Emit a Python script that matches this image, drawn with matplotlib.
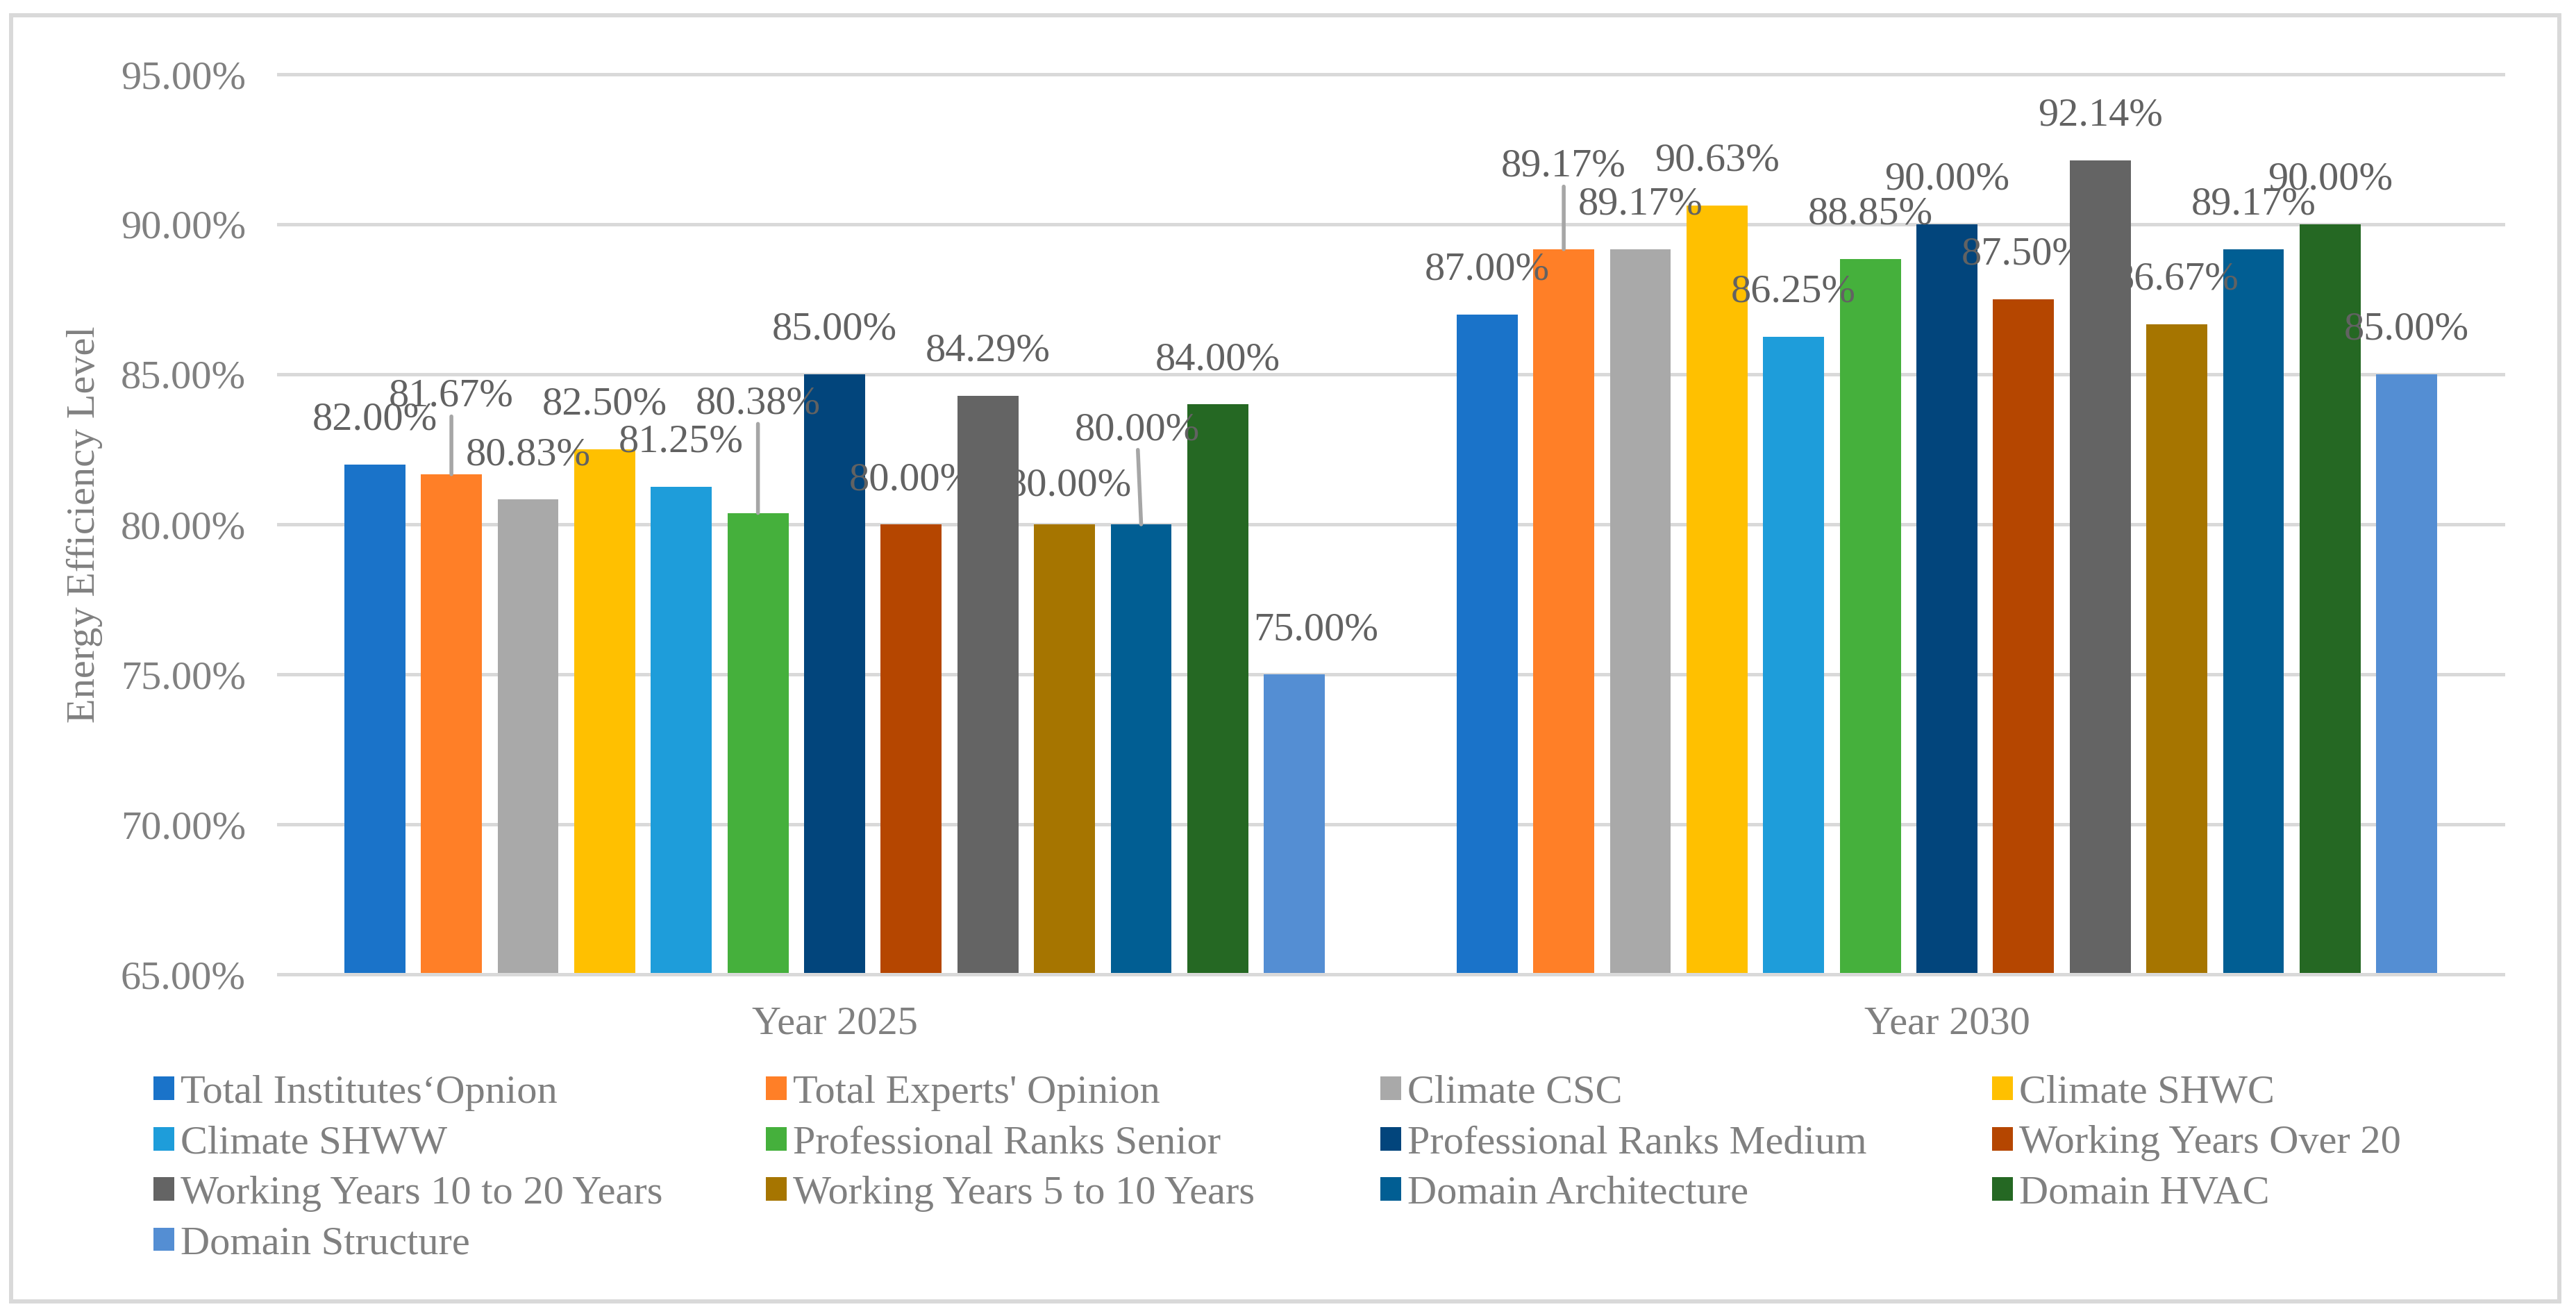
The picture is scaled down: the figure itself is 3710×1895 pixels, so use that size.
import matplotlib
matplotlib.use('Agg')
import matplotlib.pyplot as plt
from matplotlib.patches import Rectangle
from matplotlib.ticker import FuncFormatter
import numpy as np

plt.rcParams['font.family'] = ['Liberation Serif', 'DejaVu Serif']

years = ['Year 2025', 'Year 2030']
series_names = ['Total Institutes\u2018Opnion', "Total Experts' Opinion", 'Climate CSC', 'Climate SHWC',
                'Climate SHWW', 'Professional Ranks Senior', 'Professional Ranks Medium',
                'Working Years Over 20', 'Working Years 10 to 20 Years', 'Working Years 5 to 10 Years',
                'Domain Architecture', 'Domain HVAC', 'Domain Structure']
values_2025 = [82.00, 81.67, 80.83, 82.50, 81.25, 80.38, 85.00, 80.00, 84.29, 80.00, 80.00, 84.00, 75.00]
values_2030 = [87.00, 89.17, 89.17, 90.63, 86.25, 88.85, 90.00, 87.50, 92.14, 86.67, 89.17, 90.00, 85.00]
colors = ['#1A73C9', '#FF7F27', '#A9A9A9', '#FFC000', '#1E9DDA', '#45B03C', '#02457C',
          '#B54600', '#646464', '#A67500', '#015E93', '#256823', '#548ED3']

W, H = 3710, 1895
FS = 42
# data labels moved by hand in the original (dx, dy above bar top, px)
label_moves = {(0, 1): (0, 98), (0, 5): (0, 143), (0, 9): (7, 42), (0, 10): (-6, 122),
               (0, 12): (31, 50), (1, 1): (0, 105)}
leaders = {(0, 1), (0, 5), (0, 10), (1, 1)}

fig = plt.figure(figsize=(W / 100, H / 100), dpi=100)
ax = fig.add_axes([401 / W, 1 - 1403 / H, 3204 / W, 1296 / H])

n = len(series_names)
pitch = 0.0689
width = 0.0549
x = np.arange(len(years))
vals = np.array([values_2025, values_2030])

handles = []
for i in range(n):
    pos = x + (i - (n - 1) / 2) * pitch
    z = 4 if i == 8 else 2  # that series covers neighbouring labels in the original
    b = ax.bar(pos, vals[:, i], width, color=colors[i], zorder=z, label=series_names[i])
    handles.append(b)
    for g in range(len(years)):
        dx, dy = label_moves.get((g, i), (0, 50))
        arrow = None
        if (g, i) in leaders:
            arrow = dict(arrowstyle='-', color='#A6A6A6', lw=4, shrinkA=0, shrinkB=0)
        ax.annotate(f'{vals[g, i]:.2f}%', xy=(pos[g], vals[g, i]), xytext=(dx * 0.72, dy * 0.72),
                    textcoords='offset points', ha='center', va='baseline', fontsize=FS,
                    color='#626262', zorder=3, arrowprops=arrow, annotation_clip=False)

ax.set_xlim(-0.5, 1.5)
ax.set_ylim(65, 95)
ax.set_yticks(np.arange(65, 96, 5))
ax.yaxis.set_major_formatter(FuncFormatter(lambda v, p: f'{v:.2f}%'))
ax.set_xticks(x, years)
ax.set_axisbelow(True)
ax.yaxis.grid(True, color='#D9D9D9', linewidth=3.6)
for gl in ax.get_ygridlines():
    gl.set_clip_on(False)
for s in ['top', 'left', 'right']:
    ax.spines[s].set_visible(False)
ax.spines['bottom'].set_color('#D9D9D9')
ax.spines['bottom'].set_linewidth(3.6)
ax.spines['bottom'].set_zorder(5)
ax.tick_params(axis='both', length=0, labelsize=FS, labelcolor='#808080')
ax.tick_params(axis='y', pad=34)
ax.tick_params(axis='x', pad=33)
ax.set_ylabel('Energy Efficiency Level', fontsize=FS, color='#808080')
ax.yaxis.set_label_coords(-0.079, 0.5)

# legend: Excel lays the entries row by row in 4 equal columns
col_x = [221, 1103, 1988, 2869]
for c in range(4):
    idx = list(range(c, n, 4))
    fig.legend([handles[k] for k in idx], [series_names[k] for k in idx],
               loc='upper left', bbox_to_anchor=(col_x[c] / W, 1 - 1548 / H),
               frameon=False, fontsize=FS, labelcolor='#808080',
               handlelength=0.515, handleheight=0.515, handletextpad=0.15,
               labelspacing=0.35, borderpad=0, borderaxespad=0)

fig.add_artist(Rectangle((16 / W, 1 - 1874 / H), 3670 / W, 1852 / H, transform=fig.transFigure,
                         fill=False, edgecolor='#D9D9D9', linewidth=4.3))

fig.savefig('out.png', dpi=100)
